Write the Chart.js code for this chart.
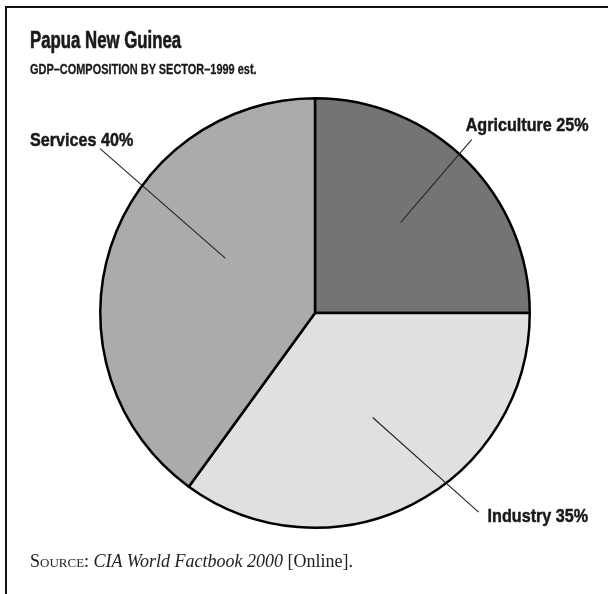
<!DOCTYPE html>
<html>
<head>
<meta charset="utf-8">
<script src="https://cdn.jsdelivr.net/npm/chart.js@4.4.1/dist/chart.umd.min.js"></script>
<style>
  html, body { margin: 0; padding: 0; background: #fff; }
  #wrap { position: relative; width: 608px; height: 594px; overflow: hidden; background: #fff; }
  #frame { position: absolute; left: 5px; top: 6px; width: 700px; height: 700px; border: 2px solid #111; box-sizing: border-box; }
  #pie { position: absolute; left: 0; top: 0; }
  .head { position: absolute; left: 30px; white-space: nowrap; color: #1a1a1a; font-weight: bold;
          font-family: "Liberation Sans", Arial, sans-serif; transform-origin: 0 0; }
  #title { top: 29px; font-size: 23px; line-height: 23px; transform: scaleX(0.73); -webkit-text-stroke: 0.6px #1a1a1a; }
  #subtitle { top: 61px; font-size: 15px; line-height: 15px; transform: scaleX(0.73); -webkit-text-stroke: 0.3px #1a1a1a; }
  #source { position: absolute; left: 30px; top: 553px; font-size: 18px; line-height: 17px; white-space: nowrap;
            font-family: "Liberation Serif", "Times New Roman", serif; color: #222; }
  #source .sc { font-variant: small-caps; }
</style>
</head>
<body>
<div id="wrap">
  <div id="frame"></div>
  <canvas id="pie" width="608" height="594"></canvas>
  <div class="head" id="title">Papua New Guinea</div>
  <div class="head" id="subtitle">GDP–COMPOSITION BY SECTOR–1999 est.</div>
  <div id="source"><span class="sc">Source:</span> <i>CIA World Factbook 2000</i> [Online].</div>
</div>
<script>
// GDP composition by sector, 1999 estimate (percent)
const sectors = ['Agriculture', 'Industry', 'Services'];
const shares = [25, 35, 40];
const sliceColors = ['#747474', '#e0e0e0', '#ababab'];

// Leader line placement per slice: inner end (angle offset from slice middle, fraction of radius),
// outer end (absolute angle in degrees, fraction of radius), and label offset from the outer end.
const leaderStyle = [
  { dIn: -1.6, rIn: 0.58, aOut: -47.9, rOut: 1.088, dx: -6, dy: -9 },
  { dIn: -1.9, rIn: 0.556, aOut: 50.6, rOut: 1.2, dx: 9, dy: 10 },
  { dIn: 13.4, rIn: 0.49, aOut: 217.4, rOut: 1.26, dx: -70, dy: -3 }
];

// Bold sans, squeezed horizontally for a condensed look
const labelFont = 'bold 19px "Liberation Sans", Arial, sans-serif';
const labelSqueeze = 0.85;

const leaderLabels = {
  id: 'leaderLabels',
  afterDatasetsDraw(chart) {
    const ctx = chart.ctx;
    const meta = chart.getDatasetMeta(0);
    meta.data.forEach((arc, i) => {
      const p = arc.getProps(['x', 'y', 'startAngle', 'endAngle', 'outerRadius'], true);
      const s = leaderStyle[i];
      const mid = (p.startAngle + p.endAngle) / 2;
      const aIn = mid + s.dIn * Math.PI / 180;
      const aOut = s.aOut * Math.PI / 180;
      const x1 = p.x + Math.cos(aIn) * p.outerRadius * s.rIn;
      const y1 = p.y + Math.sin(aIn) * p.outerRadius * s.rIn;
      const x2 = p.x + Math.cos(aOut) * p.outerRadius * s.rOut;
      const y2 = p.y + Math.sin(aOut) * p.outerRadius * s.rOut;
      ctx.save();
      ctx.strokeStyle = '#222';
      ctx.lineWidth = 1.1;
      ctx.beginPath();
      ctx.moveTo(x1, y1);
      ctx.lineTo(x2, y2);
      ctx.stroke();
      const text = sectors[i] + ' ' + shares[i] + '%';
      ctx.fillStyle = '#1a1a1a';
      ctx.strokeStyle = '#1a1a1a';
      ctx.lineWidth = 0.5;
      ctx.font = labelFont;
      ctx.textAlign = 'left';
      ctx.textBaseline = 'alphabetic';
      ctx.translate(x2 + s.dx, y2 + s.dy);
      ctx.scale(labelSqueeze, 1);
      ctx.fillText(text, 0, 0);
      ctx.strokeText(text, 0, 0);
      ctx.restore();
    });
  }
};

new Chart(document.getElementById('pie'), {
  type: 'pie',
  data: {
    labels: sectors,
    datasets: [{
      data: shares,
      backgroundColor: sliceColors,
      borderColor: '#000',
      borderWidth: 2.5,
      hoverOffset: 0
    }]
  },
  options: {
    responsive: false,
    animation: false,
    events: [],
    layout: { padding: { left: 99, top: 97, right: 77, bottom: 65 } },
    plugins: {
      legend: { display: false },
      tooltip: { enabled: false },
      title: { display: false }
    }
  },
  plugins: [leaderLabels]
});
</script>
</body>
</html>
